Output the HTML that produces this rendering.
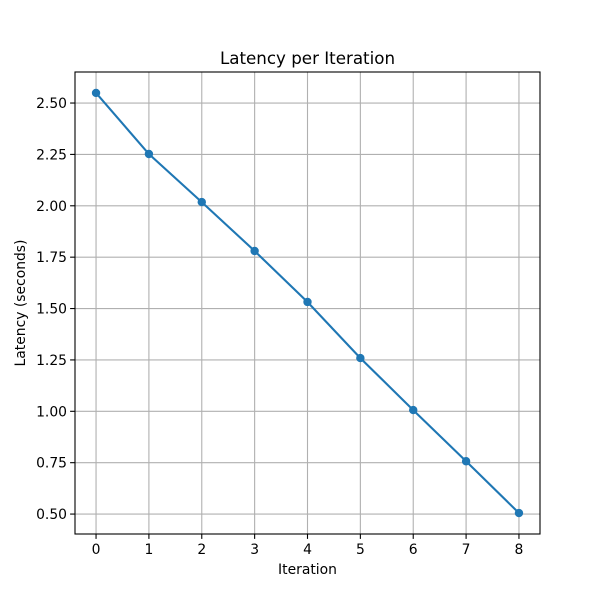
<!DOCTYPE html>
<html><head><meta charset="utf-8"><style>
body{margin:0;background:#fff}
text{font-family:"DejaVu Sans","Liberation Sans",sans-serif;fill:#000}
</style></head><body>
<svg id="c" width="600" height="600" xmlns="http://www.w3.org/2000/svg"></svg>
<script>
const iterations=[0,1,2,3,4,5,6,7,8];
const latency=[2.549,2.252,2.018,1.780,1.532,1.259,1.006,0.757,0.505];
const yTicks=[0.50,0.75,1.00,1.25,1.50,1.75,2.00,2.25,2.50];
const xTicks=[0,1,2,3,4,5,6,7,8];
const L=75,R=540,T=72,B=534;
const xMin=-0.398,xMax=8.398,yMin=0.403,yMax=2.651;
const sx=v=>L+(v-xMin)/(xMax-xMin)*(R-L);
const sy=v=>B-(v-yMin)/(yMax-yMin)*(B-T);
const svg=document.getElementById('c');
const NS='http://www.w3.org/2000/svg';
function mk(tag,attrs,parent){const e=document.createElementNS(NS,tag);for(const k in attrs)e.setAttribute(k,attrs[k]);(parent||svg).appendChild(e);return e;}
const grid=mk('g',{});


xTicks.forEach(t=>{
  const x=sx(t);
  mk('line',{x1:x,x2:x,y1:T,y2:B,stroke:'#b0b0b0','stroke-width':1.1},grid);
  mk('line',{x1:x,x2:x,y1:B,y2:B+4.9,stroke:'#000','stroke-width':1.1});
  const tx=mk('text',{x:x,y:B+20,'font-size':13.9,'text-anchor':'middle'});
  tx.textContent=t;
  
  
});
yTicks.forEach(t=>{
  const y=sy(t);
  mk('line',{x1:L,x2:R,y1:y,y2:y,stroke:'#b0b0b0','stroke-width':1.1},grid);
  mk('line',{x1:L-4.9,x2:L,y1:y,y2:y,stroke:'#000','stroke-width':1.1});
  const tx=mk('text',{x:L-8,y:y+5,'font-size':13.9,'text-anchor':'end'});
  tx.textContent=t.toFixed(2);
  
  
});
const pts=iterations.map((v,i)=>sx(v)+','+sy(latency[i])).join(' ');
const line=mk('polyline',{points:pts,fill:'none',stroke:'#1f77b4','stroke-width':2.1});


iterations.forEach((v,i)=>{
  const c=mk('circle',{cx:sx(v),cy:sy(latency[i]),r:4.2,fill:'#1f77b4'});
  
  
});
const frame=mk('rect',{x:L,y:T,width:R-L,height:B-T,fill:'none',stroke:'#000','stroke-width':1.1});


const title=mk('text',{x:(L+R)/2,y:64,'font-size':16.7,'text-anchor':'middle'});
title.textContent='Latency per Iteration';


const xl=mk('text',{x:(L+R)/2,y:574,'font-size':13.9,'text-anchor':'middle'});
xl.textContent='Iteration';


const yl=mk('text',{x:0,y:0,'font-size':13.9,'text-anchor':'middle',transform:'translate(25,'+((T+B)/2)+') rotate(-90)'});
yl.textContent='Latency (seconds)';


</script>
</body></html>
